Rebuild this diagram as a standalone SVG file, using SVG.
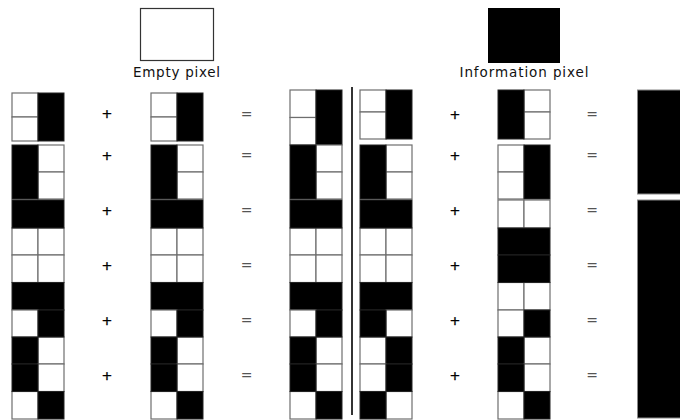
<svg xmlns="http://www.w3.org/2000/svg" width="680" height="420" viewBox="0 0 680 420">
<style>
.w{fill:#fff;stroke:#6e6e6e;stroke-width:1.2}
.k{fill:#000;stroke:#222;stroke-width:1}
.pl{font-family:"DejaVu Sans","Liberation Sans",sans-serif;font-size:13px;text-anchor:middle;fill:#000;stroke:#000;stroke-width:0.35}
.eq{font-family:"DejaVu Sans","Liberation Sans",sans-serif;font-size:14px;text-anchor:middle;fill:#555}
.lbl{font-family:"DejaVu Sans","Liberation Sans",sans-serif;font-size:13.5px;fill:#111;text-anchor:middle}
</style>
<rect width="680" height="420" fill="#fff"/>
<g id="legend-empty">
<rect x="140.5" y="8.5" width="73" height="52" fill="#fff" stroke="#333" stroke-width="1.2"/>
<text class="lbl" x="176.5" y="77" textLength="87" lengthAdjust="spacing">Empty pixel</text>
</g>
<g id="legend-info">
<rect x="488" y="8" width="72" height="55" fill="#000"/>
<text class="lbl" x="524" y="77" textLength="129" lengthAdjust="spacing">Information pixel</text>
</g>
<g id="col1">
<g id="c1b1"><rect class="w" x="12" y="93" width="26" height="24"/><rect class="w" x="12" y="117" width="26" height="24"/><rect class="k" x="38" y="93" width="26" height="48"/></g>
<g id="c1b2"><rect class="w" x="38" y="145" width="26" height="27"/><rect class="w" x="38" y="172" width="26" height="27"/><rect class="k" x="12" y="145" width="26" height="54"/></g>
<g id="c1b3"><rect class="w" x="12" y="228" width="26" height="27"/><rect class="w" x="38" y="228" width="26" height="27"/><rect class="k" x="12" y="200" width="52" height="28"/></g>
<g id="c1b4"><rect class="w" x="12" y="255" width="26" height="27.5"/><rect class="w" x="38" y="255" width="26" height="27.5"/><rect class="k" x="12" y="282.5" width="52" height="27.5"/></g>
<g id="c1b5"><rect class="w" x="12" y="310" width="26" height="27"/><rect class="w" x="38" y="337" width="26" height="27"/><rect class="k" x="38" y="310" width="26" height="27"/><rect class="k" x="12" y="337" width="26" height="27"/></g>
<g id="c1b6"><rect class="w" x="38" y="364" width="26" height="27.5"/><rect class="w" x="12" y="391.5" width="26" height="27.5"/><rect class="k" x="12" y="364" width="26" height="27.5"/><rect class="k" x="38" y="391.5" width="26" height="27.5"/></g>
</g>
<g id="col2">
<g id="c2b1"><rect class="w" x="151" y="93" width="26" height="24"/><rect class="w" x="151" y="117" width="26" height="24"/><rect class="k" x="177" y="93" width="26" height="48"/></g>
<g id="c2b2"><rect class="w" x="177" y="145" width="26" height="27"/><rect class="w" x="177" y="172" width="26" height="27"/><rect class="k" x="151" y="145" width="26" height="54"/></g>
<g id="c2b3"><rect class="w" x="151" y="228" width="26" height="27"/><rect class="w" x="177" y="228" width="26" height="27"/><rect class="k" x="151" y="200" width="52" height="28"/></g>
<g id="c2b4"><rect class="w" x="151" y="255" width="26" height="27.5"/><rect class="w" x="177" y="255" width="26" height="27.5"/><rect class="k" x="151" y="282.5" width="52" height="27.5"/></g>
<g id="c2b5"><rect class="w" x="151" y="310" width="26" height="27"/><rect class="w" x="177" y="337" width="26" height="27"/><rect class="k" x="177" y="310" width="26" height="27"/><rect class="k" x="151" y="337" width="26" height="27"/></g>
<g id="c2b6"><rect class="w" x="177" y="364" width="26" height="27.5"/><rect class="w" x="151" y="391.5" width="26" height="27.5"/><rect class="k" x="151" y="364" width="26" height="27.5"/><rect class="k" x="177" y="391.5" width="26" height="27.5"/></g>
</g>
<g id="col3">
<g id="c3b1"><rect class="w" x="290" y="90" width="26" height="27.5"/><rect class="w" x="290" y="117.5" width="26" height="27.5"/><rect class="k" x="316" y="90" width="26" height="55"/></g>
<g id="c3b2"><rect class="w" x="316" y="145" width="26" height="27"/><rect class="w" x="316" y="172" width="26" height="27"/><rect class="k" x="290" y="145" width="26" height="54"/></g>
<g id="c3b3"><rect class="w" x="290" y="228" width="26" height="27"/><rect class="w" x="316" y="228" width="26" height="27"/><rect class="k" x="290" y="200" width="52" height="28"/></g>
<g id="c3b4"><rect class="w" x="290" y="255" width="26" height="27.5"/><rect class="w" x="316" y="255" width="26" height="27.5"/><rect class="k" x="290" y="282.5" width="52" height="27.5"/></g>
<g id="c3b5"><rect class="w" x="290" y="310" width="26" height="27"/><rect class="w" x="316" y="337" width="26" height="27"/><rect class="k" x="316" y="310" width="26" height="27"/><rect class="k" x="290" y="337" width="26" height="27"/></g>
<g id="c3b6"><rect class="w" x="316" y="364" width="26" height="27.5"/><rect class="w" x="290" y="391.5" width="26" height="27.5"/><rect class="k" x="290" y="364" width="26" height="27.5"/><rect class="k" x="316" y="391.5" width="26" height="27.5"/></g>
</g>
<g id="divider"><line x1="352" y1="87" x2="352" y2="415" stroke="#333" stroke-width="2"/></g>
<g id="col4">
<g id="c4b1"><rect class="w" x="360" y="90" width="26" height="22"/><rect class="w" x="360" y="112" width="26" height="27"/><rect class="k" x="386" y="90" width="26" height="49"/></g>
<g id="c4b2"><rect class="w" x="386" y="145" width="26" height="27"/><rect class="w" x="386" y="172" width="26" height="27"/><rect class="k" x="360" y="145" width="26" height="54"/></g>
<g id="c4b3"><rect class="w" x="360" y="228" width="26" height="27"/><rect class="w" x="386" y="228" width="26" height="27"/><rect class="k" x="360" y="200" width="52" height="28"/></g>
<g id="c4b4"><rect class="w" x="360" y="255" width="26" height="27.5"/><rect class="w" x="386" y="255" width="26" height="27.5"/><rect class="k" x="360" y="282.5" width="52" height="27.5"/></g>
<g id="c4b5"><rect class="w" x="386" y="310" width="26" height="27"/><rect class="w" x="360" y="337" width="26" height="27"/><rect class="k" x="360" y="310" width="26" height="27"/><rect class="k" x="386" y="337" width="26" height="27"/></g>
<g id="c4b6"><rect class="w" x="360" y="364" width="26" height="27.5"/><rect class="w" x="386" y="391.5" width="26" height="27.5"/><rect class="k" x="386" y="364" width="26" height="27.5"/><rect class="k" x="360" y="391.5" width="26" height="27.5"/></g>
</g>
<g id="col5">
<g id="c5b1"><rect class="w" x="524" y="90" width="26" height="22"/><rect class="w" x="524" y="112" width="26" height="27"/><rect class="k" x="498" y="90" width="26" height="49"/></g>
<g id="c5b2"><rect class="w" x="498" y="145" width="26" height="27"/><rect class="w" x="498" y="172" width="26" height="27"/><rect class="k" x="524" y="145" width="26" height="54"/></g>
<g id="c5b3"><rect class="w" x="498" y="200" width="26" height="28"/><rect class="w" x="524" y="200" width="26" height="28"/><rect class="k" x="498" y="228" width="52" height="27"/></g>
<g id="c5b4"><rect class="w" x="498" y="282.5" width="26" height="27.5"/><rect class="w" x="524" y="282.5" width="26" height="27.5"/><rect class="k" x="498" y="255" width="52" height="27.5"/></g>
<g id="c5b5"><rect class="w" x="498" y="310" width="26" height="27"/><rect class="w" x="524" y="337" width="26" height="27"/><rect class="k" x="524" y="310" width="26" height="27"/><rect class="k" x="498" y="337" width="26" height="27"/></g>
<g id="c5b6"><rect class="w" x="524" y="364" width="26" height="27.5"/><rect class="w" x="498" y="391.5" width="26" height="27.5"/><rect class="k" x="498" y="364" width="26" height="27.5"/><rect class="k" x="524" y="391.5" width="26" height="27.5"/></g>
</g>
<g id="result">
<rect x="637.5" y="90" width="45" height="104" fill="#000" stroke="#888" stroke-width="1"/>
<rect x="637.5" y="200" width="45" height="218" fill="#000" stroke="#888" stroke-width="1"/>
</g>
<g id="operators">
<text class="pl" x="107" y="118">+</text>
<text class="pl" x="107" y="160">+</text>
<text class="pl" x="107" y="215">+</text>
<text class="pl" x="107" y="270">+</text>
<text class="pl" x="107" y="325">+</text>
<text class="pl" x="107" y="380">+</text>
<text class="eq" x="246.5" y="119">=</text>
<text class="eq" x="246.5" y="160">=</text>
<text class="eq" x="246.5" y="215">=</text>
<text class="eq" x="246.5" y="270">=</text>
<text class="eq" x="246.5" y="325">=</text>
<text class="eq" x="246.5" y="380">=</text>
<text class="pl" x="455" y="119">+</text>
<text class="pl" x="455" y="160">+</text>
<text class="pl" x="455" y="215">+</text>
<text class="pl" x="455" y="270">+</text>
<text class="pl" x="455" y="325">+</text>
<text class="pl" x="455" y="380">+</text>
<text class="eq" x="592" y="119">=</text>
<text class="eq" x="592" y="160">=</text>
<text class="eq" x="592" y="215">=</text>
<text class="eq" x="592" y="270">=</text>
<text class="eq" x="592" y="325">=</text>
<text class="eq" x="592" y="380">=</text>
</g>
</svg>
